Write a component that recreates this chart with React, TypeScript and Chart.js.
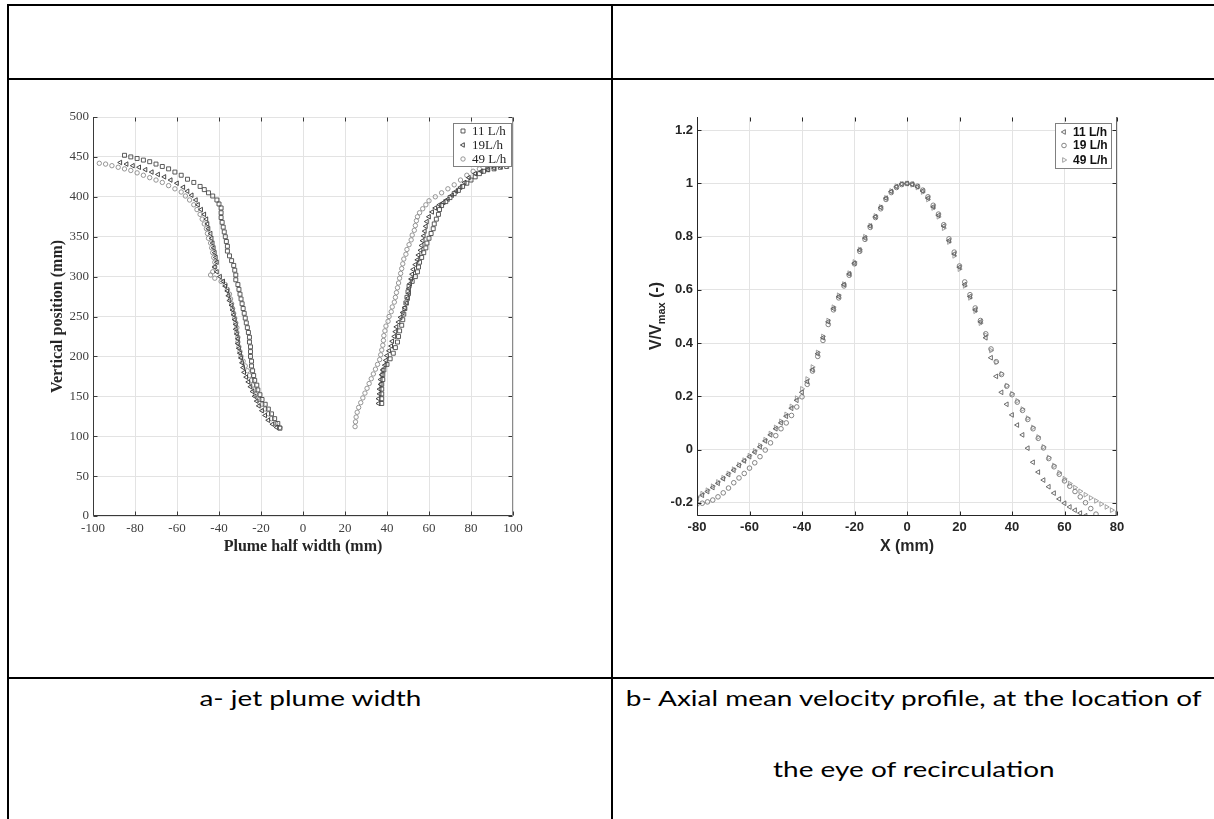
import { useEffect, useRef } from 'react';
import { Chart, registerables } from 'chart.js';
import { drawPoint } from 'chart.js/helpers';

Chart.register(...registerables);

type Pt = [number, number];

// ---------- (a) jet plume width ----------
const plumeXTicks = [-100, -80, -60, -40, -20, 0, 20, 40, 60, 80, 100];
const plumeYTicks = [0, 50, 100, 150, 200, 250, 300, 350, 400, 450, 500];
const plumeLabels = ['11 L/h', '19L/h', '49 L/h'];

// half width (mm), vertical position (mm)
const plume11Left: Pt[] = [
  [-85, 452], [-82, 450], [-79, 448], [-76, 446], [-73, 444], [-70, 441], [-67, 438], [-64, 435], [-61, 431], [-58, 427],
  [-55, 422], [-52, 418], [-49, 413], [-47, 409], [-45, 405], [-43, 401], [-41, 396], [-40, 391], [-39, 386], [-39, 380],
  [-39, 374], [-38.5, 368], [-38, 362], [-37.5, 356], [-37, 350], [-36.5, 344], [-36, 338], [-36, 332], [-35, 326], [-34, 320],
  [-33, 314], [-32.5, 308], [-32, 302], [-32, 296], [-31, 290], [-30.5, 284], [-30, 278], [-29.5, 272], [-29, 266], [-28.5, 260],
  [-28, 254], [-27.5, 248], [-27, 242], [-26.5, 236], [-26, 230], [-25.5, 224], [-25.5, 218], [-25, 212], [-25, 206], [-25, 200],
  [-24.5, 194], [-24.5, 188], [-24, 182], [-23.5, 176], [-23, 170], [-22, 164], [-21.5, 158], [-20.5, 152], [-19.5, 146], [-18, 140],
  [-16.5, 134], [-15, 128], [-13.5, 122], [-12, 116], [-11, 110],
];
const plume11Right: Pt[] = [
  [37.5, 141], [37.5, 147], [37.5, 153], [37.5, 159], [37.5, 165], [38, 171], [38, 177], [38.5, 183], [40, 190], [41.5, 197],
  [43, 204], [44, 211], [45, 218], [45.5, 225], [46, 232], [47, 239], [47.5, 246], [48, 253], [48.5, 260], [49, 267],
  [49.5, 274], [50, 281], [50.5, 288], [52, 294], [53.5, 300], [54.5, 306], [55, 312], [55.5, 318], [56.5, 324], [57.5, 330],
  [58.5, 336], [59, 342], [60, 348], [61, 354], [62, 360], [62.5, 366], [63.5, 372], [64.5, 378], [65, 384], [66, 389],
  [68, 394], [70, 399], [72, 404], [74, 408], [76, 413], [78, 417], [80, 421], [82, 425], [84, 429], [86, 432],
  [88, 434], [91, 435], [94, 437], [97, 438],
];
const plume19Left: Pt[] = [
  [-87, 443], [-84, 441], [-81, 439], [-78, 437], [-75, 434], [-72, 431], [-69, 428], [-66, 425], [-63, 421], [-60, 417],
  [-57, 412], [-55, 407], [-53, 402], [-51, 396], [-50, 390], [-48.5, 384], [-47, 378], [-46, 372], [-45.5, 366], [-45, 360],
  [-44, 354], [-43.5, 348], [-43, 342], [-42.5, 336], [-42, 330], [-41.5, 324], [-41, 318], [-42, 312], [-41, 306], [-39.5, 300],
  [-38, 294], [-37, 288], [-36, 282], [-35.5, 276], [-35, 270], [-34, 264], [-33.5, 258], [-33, 252], [-32.5, 246], [-32, 240],
  [-32, 234], [-31.5, 228], [-31, 222], [-31, 216], [-30.5, 210], [-30, 204], [-29.5, 198], [-29, 192], [-28.5, 186], [-28, 180],
  [-27, 174], [-26, 168], [-25, 162], [-24, 156], [-23, 150], [-22, 144], [-21, 138], [-19.5, 132], [-18, 126], [-16.5, 120],
  [-14.5, 115], [-12.5, 111],
];
const plume19Right: Pt[] = [
  [36, 141], [36, 147], [36.5, 153], [36.5, 159], [37, 165], [37, 171], [37.5, 177], [38, 183], [39, 189], [39.5, 195],
  [40, 201], [41, 207], [42, 213], [42.5, 219], [43.5, 225], [44, 231], [44.5, 237], [45.5, 243], [46.5, 249], [47.5, 255],
  [48.5, 261], [49.5, 267], [50, 273], [50.5, 279], [50.5, 285], [51, 291], [51.5, 297], [52, 303], [52.5, 309], [53.5, 315],
  [54.5, 321], [55, 327], [56, 333], [56.5, 339], [57, 345], [57.5, 351], [58, 357], [58.5, 363], [59, 369], [60, 375],
  [61.5, 381], [63, 386], [65, 390], [67, 393], [69, 397], [71, 402], [73, 407], [75, 412], [77, 418], [79, 424],
  [82, 429], [85, 432], [88, 434], [91, 436], [94, 438], [97, 440],
];
const plume49Left: Pt[] = [
  [-97, 442], [-94, 441], [-91, 439], [-88, 437], [-85, 435], [-82, 433], [-79, 430], [-76, 427], [-73, 424], [-70, 421],
  [-67, 418], [-64, 414], [-61, 410], [-58, 406], [-56, 401], [-54, 396], [-52, 390], [-50.5, 384], [-49, 378], [-48, 372],
  [-47, 366], [-46, 360], [-45.5, 354], [-45, 348], [-44, 342], [-43.5, 336], [-43, 330], [-42.5, 324], [-42, 318], [-42, 312],
  [-43, 306], [-44, 302], [-42, 298], [-39, 294], [-37, 290], [-36, 284], [-35, 278], [-34.5, 272], [-34, 266], [-33.5, 260],
  [-33, 254], [-32.5, 248], [-32, 242], [-31.5, 236], [-31.5, 230], [-31, 224], [-31, 218], [-30.5, 212], [-30, 206], [-29.5, 200],
  [-28.5, 194], [-27.5, 188], [-26.5, 182], [-25.5, 176], [-24.5, 170], [-24, 164], [-23, 158], [-22.5, 152], [-21, 146], [-19.5, 140],
  [-18, 134], [-16.5, 128], [-15, 122], [-13, 116], [-11, 111],
];
const plume49Right: Pt[] = [
  [24.8, 112], [25, 118], [25.3, 124], [25.8, 130], [26.5, 136], [27.5, 142], [28.5, 148], [29.5, 154], [30.5, 160], [31.5, 166],
  [32.5, 172], [33.5, 178], [34.5, 184], [35.5, 190], [36.5, 196], [37, 202], [37.5, 208], [38, 214], [38.3, 220], [38.5, 226],
  [39, 232], [39.5, 238], [40.5, 244], [41, 250], [42, 256], [42.5, 262], [43.5, 268], [44, 274], [44.5, 280], [45, 286],
  [45.5, 292], [46, 298], [46.5, 304], [47, 310], [47.5, 316], [48, 322], [49, 328], [49.5, 334], [50.5, 340], [51.5, 346],
  [52, 352], [53, 358], [53.5, 364], [54, 370], [54.5, 375], [55.5, 380], [57, 385], [58.5, 390], [60, 395], [63, 400],
  [66, 405], [69, 410], [72, 415], [75, 421], [78, 427], [81, 432], [84, 435], [88, 437], [91, 439], [94, 441],
  [97, 443], [98.5, 444],
];

// ---------- (b) axial mean velocity profile ----------
const profileXTicks = [-80, -60, -40, -20, 0, 20, 40, 60, 80];
const profileYTicks = [-0.2, 0, 0.2, 0.4, 0.6, 0.8, 1, 1.2];
const profileYTickLabels = ['-0.2', '0', '0.2', '0.4', '0.6', '0.8', '1', '1.2'];
const profileLabels = ['11 L/h', '19 L/h', '49 L/h'];

const profileX = [
  -80, -78, -76, -74, -72, -70, -68, -66, -64, -62, -60, -58, -56, -54, -52, -50, -48, -46, -44, -42,
  -40, -38, -36, -34, -32, -30, -28, -26, -24, -22, -20, -18, -16, -14, -12, -10, -8, -6, -4, -2,
  0, 2, 4, 6, 8, 10, 12, 14, 16, 18, 20, 22, 24, 26, 28, 30, 32, 34, 36, 38,
  40, 42, 44, 46, 48, 50, 52, 54, 56, 58, 60, 62, 64, 66, 68, 70, 72, 74, 76, 78, 80,
];
const profile11 = [
  -0.185, -0.172, -0.158, -0.143, -0.127, -0.11, -0.094, -0.078, -0.06, -0.043, -0.027, -0.01, 0.01, 0.032, 0.055, 0.078, 0.1, 0.125, 0.155, 0.185,
  0.215, 0.255, 0.3, 0.36, 0.42, 0.48, 0.53, 0.575, 0.62, 0.66, 0.7, 0.75, 0.795, 0.84, 0.875, 0.91, 0.945, 0.97, 0.988, 0.998,
  1.0, 0.997, 0.988, 0.972, 0.945, 0.912, 0.88, 0.84, 0.785, 0.735, 0.685, 0.62, 0.575, 0.525, 0.48, 0.42, 0.345, 0.275, 0.215, 0.17,
  0.13, 0.092, 0.055, 0.005, -0.048, -0.085, -0.115, -0.14, -0.164, -0.186, -0.202, -0.216, -0.228, -0.239, -0.249, null, null, null, null, null, null,
];
const profile19 = [
  -0.205, -0.202, -0.197, -0.19, -0.178, -0.163, -0.145, -0.125, -0.107, -0.09, -0.07, -0.05, -0.027, -0.002, 0.025, 0.052, 0.078, 0.1, 0.128, 0.16,
  0.198, 0.245, 0.295, 0.35, 0.41, 0.47, 0.525, 0.57, 0.615, 0.655, 0.698, 0.745, 0.79, 0.835, 0.872, 0.905, 0.94, 0.966, 0.985, 0.996,
  1.0, 0.998, 0.99, 0.975, 0.95, 0.918, 0.885, 0.845, 0.792, 0.742, 0.69, 0.63, 0.582, 0.532, 0.485, 0.435, 0.378, 0.33, 0.282, 0.238,
  0.206, 0.178, 0.147, 0.113, 0.078, 0.042, 0.006, -0.034, -0.065, -0.093, -0.118, -0.138, -0.158, -0.178, -0.2, -0.222, -0.243, null, null, null, null,
];
const profile49 = [
  -0.178, -0.166, -0.153, -0.138, -0.122, -0.106, -0.09, -0.074, -0.057, -0.04, -0.023, -0.005, 0.015, 0.037, 0.06, 0.083, 0.106, 0.132, 0.162, 0.193,
  0.228, 0.265, 0.31, 0.365, 0.425, 0.485, 0.535, 0.58, 0.622, 0.663, 0.705, 0.752, 0.8, 0.842, 0.878, 0.912, 0.946, 0.972, 0.99, 0.999,
  1.0, 0.995, 0.985, 0.968, 0.94, 0.908, 0.875, 0.832, 0.78, 0.728, 0.678, 0.615, 0.57, 0.52, 0.475, 0.43, 0.372, 0.328, 0.285, 0.24,
  0.21, 0.183, 0.152, 0.118, 0.083, 0.047, 0.01, -0.03, -0.06, -0.087, -0.11, -0.128, -0.143, -0.157, -0.17, -0.182, -0.193, -0.205, -0.216, -0.228, -0.24,
];

// ---------- helpers ----------
const pairsToPoints = (pairs: Pt[]) => pairs.map(([x, y]) => ({ x, y }));
const profilePoints = (ys: (number | null)[]) =>
  profileX.map((x, i) => ({ x, y: ys[i] })).filter((p) => p.y !== null) as { x: number; y: number }[];

interface Marker {
  pointStyle: any;
  rotation: number;
  color: string;
  radius: number;
}

function markerDataset(label: string, data: { x: number; y: number }[], m: Marker) {
  return {
    label,
    data,
    showLine: false,
    pointStyle: m.pointStyle,
    pointRotation: m.rotation,
    pointRadius: m.radius,
    pointHoverRadius: m.radius,
    pointBorderWidth: 0.9,
    pointBorderColor: m.color,
    pointBackgroundColor: 'rgba(0,0,0,0)',
    borderColor: m.color,
    backgroundColor: 'rgba(0,0,0,0)',
  };
}

function drawFrame(chart: any, xTicks: number[], yTicks: number[], axisColor: string, rightColor: string, tickLen: number) {
  const { ctx, chartArea: a, scales } = chart;
  const L = Math.round(a.left) + 0.5;
  const R = Math.round(a.right) - 0.5;
  const T = Math.round(a.top) + 0.5;
  const B = Math.round(a.bottom) - 0.5;
  ctx.save();
  ctx.lineWidth = 1;
  ctx.strokeStyle = axisColor;
  ctx.beginPath();
  for (const v of xTicks) {
    const p = Math.round(scales.x.getPixelForValue(v)) + 0.5;
    ctx.moveTo(p, B);
    ctx.lineTo(p, B - tickLen);
    ctx.moveTo(p, T);
    ctx.lineTo(p, T + tickLen);
  }
  for (const v of yTicks) {
    const p = Math.round(scales.y.getPixelForValue(v)) + 0.5;
    ctx.moveTo(L, p);
    ctx.lineTo(L + tickLen, p);
    ctx.moveTo(R, p);
    ctx.lineTo(R - tickLen, p);
  }
  ctx.moveTo(L, a.top);
  ctx.lineTo(L, B);
  ctx.lineTo(R, B);
  ctx.stroke();
  ctx.strokeStyle = rightColor;
  ctx.beginPath();
  ctx.moveTo(R, a.top);
  ctx.lineTo(R, B);
  ctx.stroke();
  ctx.restore();
}

interface LegendSpec {
  box: [number, number, number, number];
  rows: number[];
  markerX: number;
  textX: number;
  labels: string[];
  markers: Marker[];
  font: string;
  textColor: string;
  borderColor: string;
}

function drawLegend(ctx: CanvasRenderingContext2D, s: LegendSpec) {
  const [x, y, w, h] = s.box;
  ctx.save();
  ctx.fillStyle = '#ffffff';
  ctx.fillRect(x, y, w, h);
  ctx.strokeStyle = s.borderColor;
  ctx.lineWidth = 1;
  ctx.strokeRect(x + 0.5, y + 0.5, w, h);
  ctx.font = s.font;
  ctx.textAlign = 'left';
  ctx.textBaseline = 'middle';
  s.labels.forEach((label, i) => {
    const m = s.markers[i];
    ctx.strokeStyle = m.color;
    ctx.fillStyle = 'rgba(0,0,0,0)';
    ctx.lineWidth = 0.9;
    drawPoint(ctx, { pointStyle: m.pointStyle, rotation: m.rotation, radius: m.radius, borderWidth: 0.9 } as any, s.markerX, s.rows[i]);
    ctx.fillStyle = s.textColor;
    ctx.fillText(label, s.textX, s.rows[i] + 0.5);
  });
  ctx.restore();
}

// ---------- styles ----------
const plumeMarkers: Marker[] = [
  { pointStyle: 'rect', rotation: 0, color: '#484848', radius: 2.8 },
  { pointStyle: 'triangle', rotation: -90, color: '#333333', radius: 2.6 },
  { pointStyle: 'circle', rotation: 0, color: '#8a8a8a', radius: 2.2 },
];
const profileMarkers: Marker[] = [
  { pointStyle: 'triangle', rotation: -90, color: '#5e5e5e', radius: 2.7 },
  { pointStyle: 'circle', rotation: 0, color: '#777777', radius: 2.3 },
  { pointStyle: 'triangle', rotation: 90, color: '#999999', radius: 2.7 },
];

const SERIF = '"Liberation Serif", "Times New Roman", serif';
const SANS = '"Liberation Sans", Arial, sans-serif';

function PlumeChart() {
  const ref = useRef<HTMLCanvasElement | null>(null);
  useEffect(() => {
    if (!ref.current) return;
    const framePlugin = {
      id: 'plumeFrame',
      afterDraw(chart: any) {
        const ctx = chart.ctx as CanvasRenderingContext2D;
        drawFrame(chart, plumeXTicks, plumeYTicks, '#3a3a3a', '#8a8a8a', 4);
        ctx.save();
        ctx.fillStyle = '#262626';
        ctx.font = `bold 16px ${SERIF}`;
        ctx.textAlign = 'center';
        ctx.textBaseline = 'middle';
        ctx.fillText('Plume half width (mm)', 293, 452);
        ctx.translate(48, 221.5);
        ctx.rotate(-Math.PI / 2);
        ctx.fillText('Vertical position (mm)', 0, 0);
        ctx.restore();
        drawLegend(ctx, {
          box: [443, 28, 58, 43],
          rows: [36, 50, 64],
          markerX: 453,
          textX: 462,
          labels: plumeLabels,
          markers: plumeMarkers,
          font: `13px ${SERIF}`,
          textColor: '#262626',
          borderColor: '#808080',
        });
      },
    };
    const chart = new Chart(ref.current, {
      type: 'scatter',
      data: {
        datasets: [
          markerDataset(plumeLabels[0], pairsToPoints([...plume11Left, ...plume11Right]), plumeMarkers[0]),
          markerDataset(plumeLabels[1], pairsToPoints([...plume19Left, ...plume19Right]), plumeMarkers[1]),
          markerDataset(plumeLabels[2], pairsToPoints([...plume49Left, ...plume49Right]), plumeMarkers[2]),
        ] as any,
      },
      options: {
        animation: false,
        responsive: false,
        events: [],
        layout: { padding: { top: 22, right: 92, left: 0, bottom: 0 } },
        plugins: { legend: { display: false }, tooltip: { enabled: false } },
        scales: {
          x: {
            type: 'linear',
            min: -100,
            max: 100,
            afterBuildTicks: (s: any) => {
              s.ticks = plumeXTicks.map((value) => ({ value }));
            },
            afterFit: (s: any) => {
              s.height = 69;
            },
            grid: { color: '#e3e3e3', drawTicks: false },
            border: { display: false },
            ticks: {
              autoSkip: false,
              maxRotation: 0,
              padding: 5,
              color: '#404040',
              font: { family: SERIF, size: 13 },
              callback: (v: any) => String(v),
            },
          },
          y: {
            type: 'linear',
            min: 0,
            max: 500,
            afterBuildTicks: (s: any) => {
              s.ticks = plumeYTicks.map((value) => ({ value }));
            },
            afterFit: (s: any) => {
              s.width = 83;
            },
            grid: { color: '#e3e3e3', drawTicks: false },
            border: { display: false },
            ticks: {
              autoSkip: false,
              padding: 4,
              color: '#404040',
              font: { family: SERIF, size: 13 },
              callback: (v: any) => String(v),
            },
          },
        },
      },
      plugins: [framePlugin],
    } as any);
    return () => chart.destroy();
  }, []);
  return (
    <canvas
      ref={ref}
      width={595}
      height={490}
      style={{ position: 'absolute', left: 10, top: 95, width: 595, height: 490 }}
    />
  );
}

function ProfileChart() {
  const ref = useRef<HTMLCanvasElement | null>(null);
  useEffect(() => {
    if (!ref.current) return;
    const framePlugin = {
      id: 'profileFrame',
      afterDraw(chart: any) {
        const ctx = chart.ctx as CanvasRenderingContext2D;
        drawFrame(chart, profileXTicks, profileYTicks, '#262626', '#6a6a6a', 4);
        ctx.save();
        ctx.fillStyle = '#262626';
        ctx.font = `bold 16px ${SANS}`;
        ctx.textAlign = 'center';
        ctx.textBaseline = 'middle';
        ctx.fillText('X (mm)', 292, 452);
        // V/V_max (-) with a subscript
        ctx.translate(40, 221);
        ctx.rotate(-Math.PI / 2);
        ctx.textAlign = 'left';
        ctx.textBaseline = 'alphabetic';
        const big = `bold 16px ${SANS}`;
        const small = `bold 11px ${SANS}`;
        ctx.font = big;
        const w1 = ctx.measureText('V/V').width;
        const w3 = ctx.measureText(' (-)').width;
        ctx.font = small;
        const w2 = ctx.measureText('max').width;
        let x = -(w1 + w2 + w3) / 2;
        ctx.font = big;
        ctx.fillText('V/V', x, 6);
        x += w1;
        ctx.font = small;
        ctx.fillText('max', x, 10);
        x += w2;
        ctx.font = big;
        ctx.fillText(' (-)', x, 6);
        ctx.restore();
        drawLegend(ctx, {
          box: [440, 28, 56, 45],
          rows: [37, 50.5, 65],
          markerX: 449,
          textX: 458,
          labels: profileLabels,
          markers: profileMarkers,
          font: `bold 12px ${SANS}`,
          textColor: '#111111',
          borderColor: '#808080',
        });
      },
    };
    const chart = new Chart(ref.current, {
      type: 'scatter',
      data: {
        datasets: [
          markerDataset(profileLabels[0], profilePoints(profile11), profileMarkers[0]),
          markerDataset(profileLabels[1], profilePoints(profile19), profileMarkers[1]),
          markerDataset(profileLabels[2], profilePoints(profile49), profileMarkers[2]),
        ] as any,
      },
      options: {
        animation: false,
        responsive: false,
        events: [],
        layout: { padding: { top: 22, right: 93, left: 0, bottom: 0 } },
        plugins: { legend: { display: false }, tooltip: { enabled: false } },
        scales: {
          x: {
            type: 'linear',
            min: -80,
            max: 80,
            afterBuildTicks: (s: any) => {
              s.ticks = profileXTicks.map((value) => ({ value }));
            },
            afterFit: (s: any) => {
              s.height = 69;
            },
            grid: { color: '#e3e3e3', drawTicks: false },
            border: { display: false },
            ticks: {
              autoSkip: false,
              maxRotation: 0,
              padding: 4,
              color: '#262626',
              font: { family: SANS, size: 13, weight: 'bold' },
              callback: (v: any) => String(v),
            },
          },
          y: {
            type: 'linear',
            min: -0.25,
            max: 1.25,
            afterBuildTicks: (s: any) => {
              s.ticks = profileYTicks.map((value) => ({ value }));
            },
            afterFit: (s: any) => {
              s.width = 82;
            },
            grid: { color: '#e3e3e3', drawTicks: false },
            border: { display: false },
            ticks: {
              autoSkip: false,
              padding: 4,
              color: '#262626',
              font: { family: SANS, size: 13, weight: 'bold' },
              callback: (_v: any, i: number) => profileYTickLabels[i],
            },
          },
        },
      },
      plugins: [framePlugin],
    } as any);
    return () => chart.destroy();
  }, []);
  return (
    <canvas
      ref={ref}
      width={595}
      height={490}
      style={{ position: 'absolute', left: 615, top: 95, width: 595, height: 490 }}
    />
  );
}

const CAPTION_FONT = 'Lato, "Open Sans", sans-serif';

function Rule({ x, y, w, h }: { x: number; y: number; w: number; h: number }) {
  return <div style={{ position: 'absolute', left: x, top: y, width: w, height: h, background: '#000' }} />;
}

function Caption({ text, left, width, cy }: { text: string; left: number; width: number; cy: number }) {
  return (
    <div
      style={{
        position: 'absolute',
        left,
        width,
        top: cy - 16,
        height: 32,
        lineHeight: '32px',
        textAlign: 'center',
        fontFamily: CAPTION_FONT,
        fontSize: 22,
        color: '#000',
        whiteSpace: 'nowrap',
      }}
    >
      <span style={{ display: 'inline-block', transform: 'scaleX(1.27)', transformOrigin: 'center' }}>{text}</span>
    </div>
  );
}

export default function App() {
  return (
    <div
      style={{
        position: 'absolute',
        left: 0,
        top: 0,
        width: 1214,
        height: 819,
        background: '#ffffff',
        overflow: 'hidden',
      }}
    >
      <Rule x={7} y={4} w={1207} h={2} />
      <Rule x={7} y={78} w={1207} h={2} />
      <Rule x={7} y={677} w={1207} h={2} />
      <Rule x={7} y={4} w={2} h={815} />
      <Rule x={611} y={4} w={2} h={815} />
      <PlumeChart />
      <ProfileChart />
      <Caption text="a- jet plume width" left={9} width={602} cy={698} />
      <Caption text="b- Axial mean velocity profile, at the location of" left={613} width={601} cy={698} />
      <Caption text="the eye of recirculation" left={613} width={601} cy={769} />
    </div>
  );
}
